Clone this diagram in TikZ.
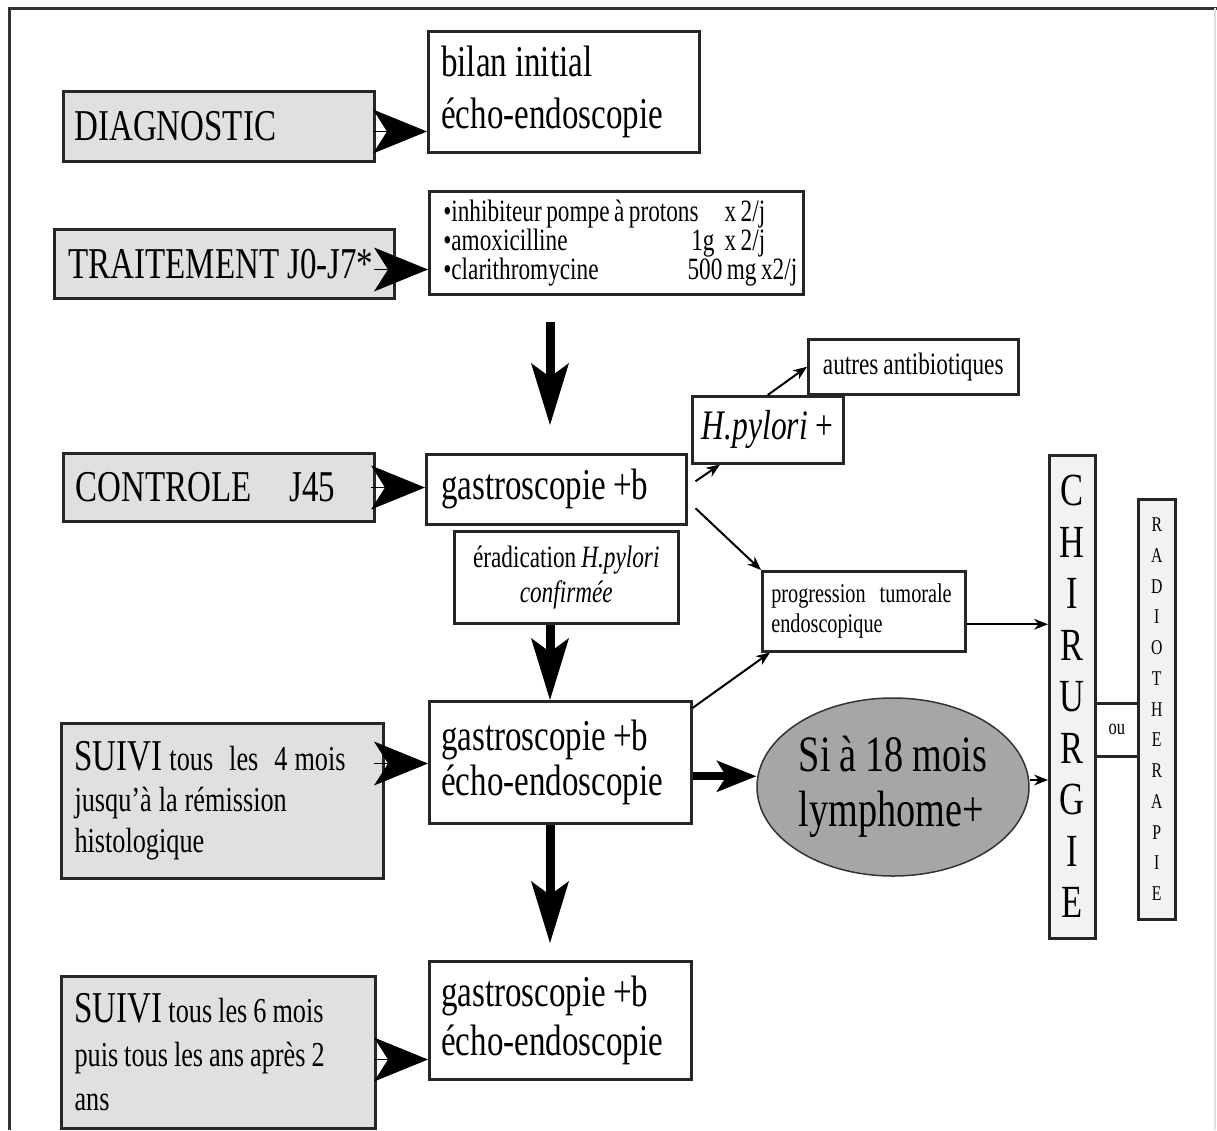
\documentclass[tikz,border=0pt]{standalone}
\usepackage{fontspec}
\setmainfont{Liberation Serif}[FakeStretch=0.75]
\usetikzlibrary{arrows.meta,shapes.geometric}
\newcommand\SetSp[1]{\spaceskip=#1\relax\xspaceskip=#1\relax}
\newcommand\FtBig{\fontsize{44}{52}\selectfont}
\newcommand\FtList{\fontsize{31}{29}\selectfont}
\newcommand\FtMid{\fontsize{31}{35}\selectfont}
\newcommand\FtProg{\fontsize{27}{30}\selectfont}
\newcommand\FtSuiviA{\fontsize{35}{41}\selectfont}
\newcommand\FtSuiviB{\fontsize{35}{44}\selectfont}
\newcommand\FtHp{\fontsize{42}{46}\selectfont}
\newcommand\FtEll{\fontsize{51}{55}\selectfont}
\newcommand\FtChir{\fontsize{46}{51.5}\selectfont}
\newcommand\FtRad{\fontsize{21}{30.75}\selectfont}
\newcommand\FtOu{\fontsize{22}{24}\selectfont}
\newcommand\FtGa{\fontsize{44}{45}\selectfont}
\newcommand\FtGb{\fontsize{44}{49}\selectfont}
\begin{document}
\begin{tikzpicture}[x=1pt,y=-1pt,
  lbox/.style={draw=black!85, line width=3pt, fill=black!12, anchor=north west, inner xsep=11pt, inner ysep=0pt, align=left},
  rbox/.style={draw=black!85, line width=2.5pt, fill=white, anchor=north west, inner xsep=13pt, inner ysep=0pt, align=left},
  vbox/.style={draw=black!85, line width=2.5pt, fill=black!5, anchor=north west, inner sep=0pt, align=center},
  chev/.style={line width=0.5pt, -{Stealth[length=54pt,width=44pt,inset=14pt,line width=0pt]}},
  bigarr/.style={line width=9pt, -{Stealth[length=62pt,width=38pt,inset=14pt,line width=0pt]}},
  medarr/.style={line width=8pt, -{Stealth[length=40pt,width=32pt,inset=10pt,line width=0pt]}},
  thinarr/.style={line width=2pt, -{Stealth[length=14pt,width=11pt,line width=0pt]}}
]
\useasboundingbox (0,0) rectangle (1217,1130);
\fill[white] (0,0) rectangle (1217,1130);
% frame
\draw[line width=3pt, black!80] (9,1130) -- (9,8) -- (1217,8);
\draw[line width=2pt, black!12] (1215,8) -- (1215,1130);

% left column
\node[lbox, font=\FtBig, minimum width=311, minimum height=70, text width=289] (diag) at (62,90) {DIAGNOSTIC};
\node[lbox, font=\FtBig, minimum width=340, minimum height=69, text width=312, inner xsep=14pt] (trait) at (53,228) {\SetSp{8pt}\mbox{TRAITEMENT J0-J7*}};
\node[lbox, font=\FtBig, minimum width=311, minimum height=68, text width=287, inner xsep=12pt] (ctrl) at (62,452) {CONTROLE\hspace{38pt}J45};
\node[lbox, font=\FtSuiviA, minimum width=322, minimum height=155, text width=296, inner xsep=13pt] (suivi1) at (60,722)
  {\SetSp{7pt}{\FtBig SUIVI} tous\hspace{9pt} les\hspace{9pt} 4 mois\\jusqu’à la rémission\\histologique};
\node[lbox, font=\FtSuiviB, minimum width=314, minimum height=152, text width=288, inner xsep=13pt] (suivi2) at (60,975)
  {\SetSp{6pt}{\FtBig SUIVI} tous les 6 mois\\puis tous les ans après 2\\ans};

% middle column
\node[rbox, font=\FtBig, minimum width=271, minimum height=121, text width=245] (bilan) at (427,30) {\SetSp{8pt}bilan initial\\écho-endoscopie};
\node[rbox, font=\FtList, minimum width=374, minimum height=103, text width=346, inner xsep=14pt] (list) at (428,190)
  {\SetSp{4.5pt}\makebox[322pt][l]{•inhibiteur pompe à protons\hfill x 2/j}\\
   \makebox[322pt][l]{•amoxicilline\hfill 1g\hspace{10pt}x 2/j}\\
   \makebox[354pt][l]{•clarithromycine\hfill 500 mg x2/j}};
\node[rbox, font=\FtBig, minimum width=260, minimum height=70, text width=230, inner xsep=15pt] (g1) at (425,453) {\SetSp{7pt}gastroscopie +b};
\node[rbox, font=\FtMid, minimum width=224, minimum height=92, text width=210, inner xsep=7pt, align=center] (erad) at (453,530)
  {\SetSp{5pt}éradication \textit{H.pylori}\\\textit{confirmée}};
\node[rbox, font=\FtGa, minimum width=262, minimum height=122, text width=238, inner xsep=12pt] (g2) at (428,700)
  {\SetSp{7pt}gastroscopie +b\\écho-endoscopie};
\node[rbox, font=\FtGb, minimum width=262, minimum height=118, text width=238, inner xsep=12pt] (g3) at (428,960)
  {\SetSp{7pt}gastroscopie +b\\écho-endoscopie};

% right part
\node[rbox, font=\FtHp, minimum width=151, minimum height=67, inner xsep=4pt, align=center] (hp) at (691,395) {\SetSp{8pt}\textit{H.pylori} +};
\node[rbox, font=\FtMid, minimum width=210, minimum height=55, inner xsep=4pt, align=center] (aut) at (807,338) {\SetSp{5pt}autres antibiotiques};
\node[rbox, font=\FtProg, minimum width=203, minimum height=80, text width=185, inner xsep=9pt] (prog) at (761,570)
  {\SetSp{5pt}progression\hspace{9pt} tumorale\\endoscopique};
\node[ellipse, font=\FtEll, draw=black!80, line width=1.5pt, fill=black!35, minimum width=272, minimum height=178, inner sep=0pt, align=left] (ell) at (893,787)
  {\SetSp{9pt}Si à 18 mois\\lymphome+};
\node[vbox, font=\FtChir, minimum width=46, minimum height=483] (chir) at (1048,454) {C\\H\\I\\R\\U\\R\\G\\I\\E};
\node[vbox, font=\FtOu, minimum width=43, minimum height=53, fill=white] (ou) at (1094,702) {ou};
\node[vbox, font=\FtRad, minimum width=37, minimum height=420] (radio) at (1137,498) {R\\A\\D\\I\\O\\T\\H\\E\\R\\A\\P\\I\\E};

% chevrons
\coordinate (c1) at ([yshift=-5pt]diag.east -| bilan.west);
\coordinate (c2) at ([yshift=-5.5pt]trait.east -| list.west);
\coordinate (c3) at (ctrl.east -| g1.west);
\coordinate (c4) at ([yshift=37.5pt]suivi1.east -| g2.west);
\coordinate (c5) at ([yshift=-7pt]suivi2.east -| g3.west);
\foreach \c in {c1,c2,c3,c4,c5}
  \draw[chev] ([xshift=-54pt]\c) -- (\c);

% thick arrows
\coordinate (a1s) at (550,322);
\coordinate (a1e) at (550,425);
\coordinate (x550) at (550,0);
\coordinate (a3e) at (550,943);
\draw[bigarr] (a1s) -- (a1e);
\draw[bigarr] (erad.south -| x550) -- (g2.north -| x550);
\draw[bigarr] (g2.south -| x550) -- (a3e);
\draw[medarr] ([yshift=-14pt]g2.east) -- ([yshift=-14pt]g2.east -| ell.west);

% thin arrows
\draw[thinarr] ([xshift=8pt,yshift=8pt]g1.east) -- ([xshift=29pt]hp.south west);
\draw[thinarr] (hp.north) -- (aut.west);
\draw[thinarr] ([xshift=8pt,yshift=-19pt]g1.east) -- (prog.north west);
\draw[thinarr] ([yshift=-13pt]prog.east) -- ([yshift=-13pt]prog.east -| chir.west);
\draw[thinarr] ([yshift=-8pt]g2.north east) -- ([xshift=9pt]prog.south west);
\draw[thinarr] ([yshift=7pt]ell.east) -- ([yshift=7pt]ell.east -| chir.west);
\end{tikzpicture}
\end{document}
